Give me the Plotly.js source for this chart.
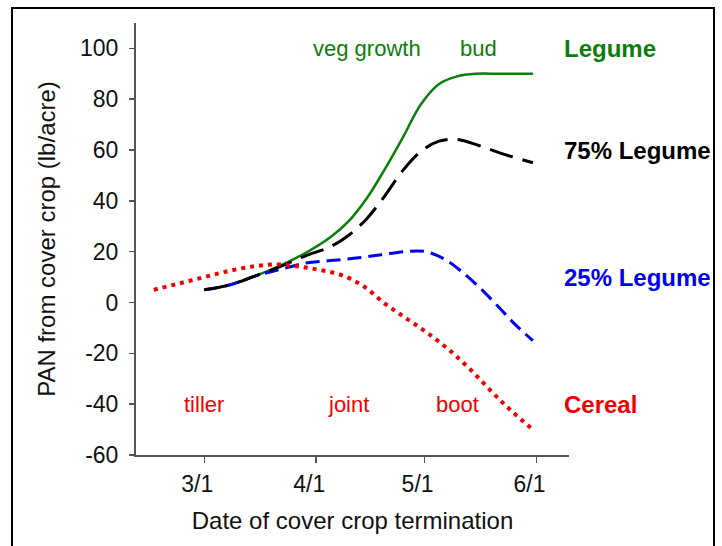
<!DOCTYPE html>
<html>
<head>
<meta charset="utf-8">
<script src="https://cdn.plot.ly/plotly-3.0.1.min.js"></script>
<style>
  html, body { margin: 0; padding: 0; background: #fff; }
  #wrap { position: relative; width: 722px; height: 546px; overflow: hidden; }
  #chart { width: 722px; height: 546px; }
  #frame { position: absolute; left: 11px; top: 7px; width: 704px; height: 600px;
           border: 2.5px solid #000; pointer-events: none; box-sizing: border-box; }
</style>
</head>
<body>
<div id="wrap">
  <div id="chart"></div>
  <div id="frame"></div>
</div>
<script>
// ---- data ----
const legumeDates = ['2021-03-01','2021-03-08','2021-03-15','2021-03-22','2021-03-29','2021-04-05','2021-04-10','2021-04-15','2021-04-20','2021-04-25','2021-04-30','2021-05-05','2021-05-10','2021-05-15','2021-05-22','2021-05-31'];
const legumeVals  = [5, 7, 10.4, 14.5, 19.5, 25.8, 32, 41, 52.5, 65, 78, 86, 89, 90, 90, 90];

const leg75Dates = ['2021-03-01','2021-03-08','2021-03-15','2021-03-22','2021-03-29','2021-04-05','2021-04-10','2021-04-15','2021-04-20','2021-04-25','2021-04-30','2021-05-05','2021-05-10','2021-05-16','2021-05-22','2021-05-31'];
const leg75Vals  = [5, 6.9, 10.4, 14.1, 18.4, 22, 26.5, 33, 42, 52, 59.5, 63.5, 64.2, 61.8, 58.8, 55];

const leg25Dates = ['2021-03-01','2021-03-08','2021-03-15','2021-03-22','2021-03-29','2021-04-05','2021-04-12','2021-04-19','2021-04-26','2021-05-01','2021-05-06','2021-05-11','2021-05-16','2021-05-21','2021-05-26','2021-05-31'];
const leg25Vals  = [5, 6.9, 10.4, 13, 15.5, 16.5, 17.5, 18.8, 20.1, 20.1, 17.5, 12.5, 6.2, -1, -8.5, -15];

const cerealDates = ['2021-02-15','2021-02-22','2021-03-01','2021-03-08','2021-03-15','2021-03-21','2021-03-27','2021-04-02','2021-04-08','2021-04-14','2021-04-20','2021-04-26','2021-05-02','2021-05-08','2021-05-14','2021-05-20','2021-05-25','2021-05-31'];
const cerealVals  = [5, 7.5, 10, 12.5, 14.3, 15, 14.2, 12.8, 10.8, 6.5, -0.4, -6.3, -12.2, -18.9, -26.8, -35.7, -42.6, -50];

const xTickVals = ['2021-03-01','2021-04-01','2021-05-01','2021-06-01'];
const xTickText = ['3/1','4/1','5/1','6/1'];
const yTickVals = [-60,-40,-20,0,20,40,60,80,100];
const yTickText = ['-60','-40','-20','0','20','40','60','80','100'];

const seriesLabels = ['Legume','75% Legume','25% Legume','Cereal'];
const seriesLabelY = [100, 60, 10, -40];
const stageLabels = ['veg growth','bud','tiller','joint','boot'];
const stageLabelX = ['2021-04-15','2021-05-16','2021-03-01','2021-04-10','2021-05-10'];
const stageLabelY = [100, 100, -40, -40, -40];

const GREEN = '#0b7d0b', BLACK = '#000000', BLUE = '#0000f0', RED = '#f00000';
const FONT = '"Liberation Sans", Arial, sans-serif';

const traces = [
  {x: legumeDates, y: legumeVals, mode: 'lines', line: {color: GREEN, width: 2.5, shape: 'spline', smoothing: 1}},
  {x: leg25Dates, y: leg25Vals, mode: 'lines', line: {color: BLUE, width: 3, dash: '14px,7px', shape: 'spline', smoothing: 1}},
  {x: leg75Dates, y: leg75Vals, mode: 'lines', line: {color: BLACK, width: 3, dash: '24px,10px', shape: 'spline', smoothing: 1}},
  {x: cerealDates, y: cerealVals, mode: 'lines', line: {color: RED, width: 4, dash: '4px,5px', shape: 'spline', smoothing: 1}}
];

const serColors = [GREEN, BLACK, BLUE, RED];
const stageColors = [GREEN, GREEN, RED, RED, RED];
const annotations = [];
seriesLabels.forEach((t, i) => annotations.push({
  text: '<b>' + t + '</b>', xref: 'x', yref: 'y', x: '2021-06-08', y: seriesLabelY[i],
  xanchor: 'left', yanchor: 'middle', showarrow: false,
  font: {family: FONT, size: 24, color: serColors[i]}
}));
stageLabels.forEach((t, i) => annotations.push({
  text: t, xref: 'x', yref: 'y', x: stageLabelX[i], y: stageLabelY[i],
  xanchor: 'center', yanchor: 'middle', showarrow: false,
  font: {family: FONT, size: 22, color: stageColors[i]}
}));

const layout = {
  width: 722, height: 546,
  margin: {l: 136, r: 153, t: 23, b: 91},
  paper_bgcolor: '#fff', plot_bgcolor: '#fff',
  showlegend: false,
  font: {family: FONT, size: 22, color: '#111'},
  xaxis: {
    type: 'date', range: ['2021-02-10 02:00', '2021-06-10'],
    tickvals: xTickVals, ticktext: xTickText,
    showgrid: false, zeroline: false, showline: true, linecolor: '#555', linewidth: 2,
    ticks: 'outside', ticklen: 6, tickwidth: 1.5, tickcolor: '#555',
    ticklabelshift: -7, ticklabelstandoff: 1,
    tickfont: {family: FONT, size: 23, color: '#111'},
    title: {text: 'Date of cover crop termination', font: {family: FONT, size: 24, color: '#111'}, standoff: 17}
  },
  yaxis: {
    range: [-60, 110], tickvals: yTickVals, ticktext: yTickText,
    showgrid: false, zeroline: false, showline: true, linecolor: '#555', linewidth: 2,
    ticks: 'outside', ticklen: 5, tickwidth: 1.5, tickcolor: '#555',
    ticklabelstandoff: 6,
    tickfont: {family: FONT, size: 23, color: '#111'},
    title: {text: 'PAN from cover crop (lb/acre)', font: {family: FONT, size: 24, color: '#111'}, standoff: 18}
  },
  annotations: annotations
};

Plotly.newPlot('chart', traces, layout, {staticPlot: true, displayModeBar: false});
</script>
</body>
</html>
